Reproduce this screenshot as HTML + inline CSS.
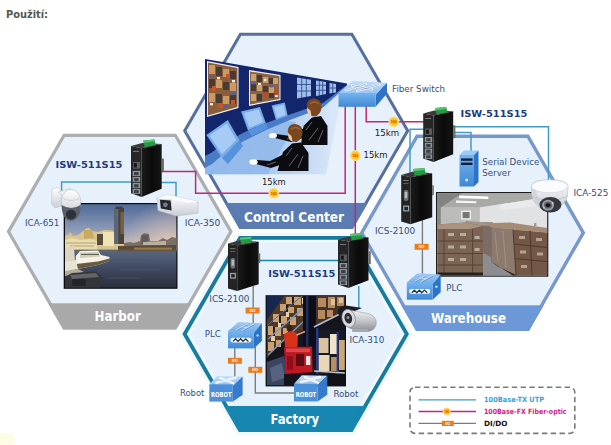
<!DOCTYPE html><html><head><meta charset="utf-8"><title>Použití</title><style>html,body{margin:0;padding:0;background:#fff}body{width:611px;height:445px;overflow:hidden}svg{display:block;font-family:"DejaVu Sans Condensed","DejaVu Sans","Liberation Sans",sans-serif}.b{font-family:"DejaVu Sans","Liberation Sans",sans-serif;font-weight:bold}.t{font-family:"DejaVu Sans Condensed","DejaVu Sans","Liberation Sans",sans-serif;font-weight:bold;fill:#fff}</style></head><body>
<svg width="611" height="445" viewBox="0 0 611 445">
<rect width="611" height="445" fill="#fff"/>
<defs>
<linearGradient id="gSide" x1="0" y1="0" x2="1" y2="0"><stop offset="0" stop-color="#1b1b1b"/><stop offset="0.5" stop-color="#0a0a0a"/><stop offset="1" stop-color="#151515"/></linearGradient>
<linearGradient id="gFront" x1="0" y1="0" x2="0" y2="1"><stop offset="0" stop-color="#74b4f0"/><stop offset="1" stop-color="#3f88d2"/></linearGradient>
<linearGradient id="gTop" x1="0" y1="0" x2="0" y2="1"><stop offset="0" stop-color="#c4dffa"/><stop offset="1" stop-color="#8fc0f2"/></linearGradient>
<linearGradient id="gSky" x1="0" y1="0" x2="0" y2="1"><stop offset="0" stop-color="#506a98"/><stop offset="0.55" stop-color="#8c9ab6"/><stop offset="1" stop-color="#dcc6b0"/></linearGradient>
<linearGradient id="gWater" x1="0" y1="0" x2="0" y2="1"><stop offset="0" stop-color="#5c6a84"/><stop offset="0.4" stop-color="#445068"/><stop offset="1" stop-color="#2a2f3c"/></linearGradient>
<linearGradient id="gWhite" x1="0" y1="0" x2="0" y2="1"><stop offset="0" stop-color="#ffffff"/><stop offset="1" stop-color="#c9ced6"/></linearGradient>
<linearGradient id="gSilver" x1="0" y1="0" x2="0" y2="1"><stop offset="0" stop-color="#f4f4f6"/><stop offset="0.5" stop-color="#c4c6ca"/><stop offset="1" stop-color="#8a8c92"/></linearGradient>
<radialGradient id="gSkyR" gradientUnits="userSpaceOnUse" cx="172" cy="252" r="52"><stop offset="0" stop-color="#ecd0bc" stop-opacity="0.95"/><stop offset="0.5" stop-color="#e0c4b4" stop-opacity="0.5"/><stop offset="1" stop-color="#d8c0b0" stop-opacity="0"/></radialGradient>
<linearGradient id="gFloor" gradientUnits="userSpaceOnUse" x1="205" y1="0" x2="338" y2="0"><stop offset="0" stop-color="#9cc0ee"/><stop offset="0.6" stop-color="#b4d0f2"/><stop offset="1" stop-color="#dbe8f9"/></linearGradient>
<linearGradient id="gTop2" x1="0" y1="0" x2="0" y2="1"><stop offset="0" stop-color="#a4ccf6"/><stop offset="1" stop-color="#6ea8e6"/></linearGradient>
<radialGradient id="gDot"><stop offset="0" stop-color="#ffb400"/><stop offset="0.6" stop-color="#ffc62a"/><stop offset="1" stop-color="#ffe48a"/></radialGradient>
<radialGradient id="gLens"><stop offset="0" stop-color="#555"/><stop offset="0.5" stop-color="#222"/><stop offset="1" stop-color="#666"/></radialGradient>

<!-- ISW switch: 30 x 55 -->
<g id="isw">
 <polygon points="0,6.4 11,3.5 30,4.3 10.3,8.5" fill="#3a3a3a"/>
 <polygon points="12,1 23,0 24.4,5.6 13.4,7.4" fill="#249a45"/>
 <polygon points="12,1 23,0 23.4,2 12.4,3.2" fill="#56c672"/>
 <polygon points="0,6.4 10.3,8.5 10.3,55 0,51.5" fill="#262626"/>
 <polygon points="10.3,8.5 30,4.3 30,47.2 10.3,55" fill="url(#gSide)"/>
 <polygon points="30,18 32.2,18.5 32.2,31 30,31.5" fill="#6a6a6a"/>
 <rect x="2" y="21.5" width="6.8" height="6.5" fill="#5a5d62"/>
 <rect x="2.8" y="22.6" width="3" height="4.2" fill="#1a1a1a"/>
 <rect x="1.6" y="30" width="7.4" height="5" fill="#8b969f"/>
 <rect x="1.6" y="35.8" width="7.4" height="5" fill="#8b969f"/>
 <rect x="1.6" y="41.6" width="7.4" height="5" fill="#8b969f"/>
 <rect x="1.6" y="47.4" width="7.4" height="4.6" fill="#8b969f"/>
 <rect x="3" y="31.2" width="4.4" height="3" fill="#3a4046"/>
 <rect x="3" y="37" width="4.4" height="3" fill="#3a4046"/>
 <rect x="3" y="42.8" width="4.4" height="3" fill="#3a4046"/>
 <rect x="3" y="48.4" width="4.4" height="2.8" fill="#3a4046"/>
 <rect x="2" y="11" width="6" height="1" fill="#777"/>
</g>
<!-- ICS-2100: 31 x 56 -->
<g id="ics">
 <polygon points="0,7 12,3.6 31,5.2 9.3,9.2" fill="#3a3a3a"/>
 <polygon points="12,1 23.2,0 24.6,6 13.4,7.8" fill="#249a45"/>
 <polygon points="12,1 23.2,0 23.6,2 12.4,3.2" fill="#56c672"/>
 <polygon points="0,7 9.3,9.2 9.3,56.2 0,53.6" fill="#242424"/>
 <polygon points="9.3,9.2 31,5.2 31,49.3 9.3,56.2" fill="url(#gSide)"/>
 <polygon points="31,17 32.6,17.4 32.6,27 31,27.4" fill="#6a6a6a"/>
 <rect x="2" y="12" width="5.5" height="0.9" fill="#888"/>
 <rect x="2" y="15" width="5.5" height="0.9" fill="#666"/>
 <rect x="2.6" y="22" width="4.6" height="11" rx="2" fill="#6e7378"/>
 <rect x="3.6" y="24" width="2.4" height="6" fill="#b8bcc0"/>
 <rect x="2" y="37.5" width="6" height="6" fill="#9aa4ac"/>
 <rect x="3.2" y="38.8" width="3.6" height="3.4" fill="#20262c"/>
</g>
<!-- generic blue box 34.5 x 27 : front 0..25.8 x 9.2..26.4 -->
<g id="boxbase">
 <polygon points="0,9.2 10.4,0 33.9,1.2 25.8,11" fill="url(#gTop)"/>
 <polygon points="25.8,11 33.9,1.2 33.9,19 25.8,26.4" fill="#2d74c8"/>
 <rect x="0" y="9.2" width="25.8" height="17.2" fill="url(#gFront)"/>
</g>
<g id="plc">
 <polygon points="0,9.2 10.4,0 33.9,1.2 25.8,11" fill="url(#gTop2)"/>
 <polygon points="25.8,11 33.9,1.2 33.9,19 25.8,26.4" fill="#2d74c8"/>
 <rect x="0" y="9.2" width="25.8" height="17.2" fill="url(#gFront)"/>
 <path d="M8,8 L18.5,2.6 M13.5,8.8 L26,2.2 M13,4.8 L20.5,5.6" stroke="#d6eafc" stroke-width="1" fill="none"/>
 <path d="M8.6,8.4 L19,3.1 M14.1,9.2 L26.5,2.7" stroke="#3f6fa8" stroke-width="0.5" fill="none"/>
 <rect x="2.4" y="15.8" width="21" height="4.6" rx="2.3" fill="#f4f8fc"/>
 <path d="M5,19.4 L7.6,16.8 L10,19.4 L12.6,16.8 L15,19.4 L17.6,16.8 L20.4,19.4" stroke="#27324a" stroke-width="1.3" fill="none"/>
 <circle cx="29.6" cy="13.4" r="1.2" fill="#bfe0ff"/>
</g>
<g id="robot">
 <polygon points="0,8.3 7.8,0 33.3,0.4 23.5,9.9" fill="url(#gTop)"/>
 <polygon points="23.5,9.9 33.3,0.4 33.3,19 23.5,25.5" fill="#357bcd"/>
 <rect x="0" y="8.3" width="23.5" height="17.2" fill="#4c90da"/>
 <path d="M7,6.6 L26,1.6 M11,1.8 L24,7.2" stroke="#ffffff" stroke-width="2.2" stroke-linecap="round" fill="none"/>
 <path d="M7,6.6 L26,1.6 M11,1.8 L24,7.2" stroke="#d8e4f0" stroke-width="0.7" fill="none"/>
</g>
<g id="dot100">
 <circle r="5.4" fill="url(#gDot)"/>
</g>
<g id="io">
 <rect x="-7" y="-3" width="14" height="6" fill="#ea7d1c"/>
</g>
</defs>

<text x="6" y="18" font-size="11" font-weight="bold" fill="#555" textLength="42" lengthAdjust="spacingAndGlyphs">Použití:</text>
<clipPath id="hh"><polygon points="230.9,231.6 175.3,327.9 64.1,327.9 8.5,231.6 64.1,135.3 175.3,135.3"/></clipPath>
<polygon points="230.9,231.6 175.3,327.9 64.1,327.9 8.5,231.6 64.1,135.3 175.3,135.3" fill="#e6f1fc"/>
<rect x="6.450000000000003" y="303.3" width="226.5" height="27.64532617101878" fill="#a9a9a9" clip-path="url(#hh)"/>
<polygon points="230.9,231.6 175.3,327.9 64.1,327.9 8.5,231.6 64.1,135.3 175.3,135.3" fill="none" stroke="#acaeb0" stroke-width="3.2" stroke-linejoin="miter"/>
<g clip-path="url(#hhb)"><polygon points="230.9,231.6 175.3,327.9 64.1,327.9 8.5,231.6 64.1,135.3 175.3,135.3" fill="none" stroke="#a9a9a9" stroke-width="3.2"/></g>
<clipPath id="hhb"><rect x="3.450000000000003" y="303.3" width="232.5" height="60"/></clipPath>
<clipPath id="hw"><polygon points="583.3,232.8 527.9,329.4 417.1,329.4 361.7,232.8 417.1,136.2 527.9,136.2"/></clipPath>
<polygon points="583.3,232.8 527.9,329.4 417.1,329.4 361.7,232.8 417.1,136.2 527.9,136.2" fill="#e6f1fc"/>
<rect x="359.7" y="305.3" width="225.6" height="27.099999999999966" fill="#6c98d8" clip-path="url(#hw)"/>
<polygon points="583.3,232.8 527.9,329.4 417.1,329.4 361.7,232.8 417.1,136.2 527.9,136.2" fill="none" stroke="#7897cb" stroke-width="3.4" stroke-linejoin="miter"/>
<g clip-path="url(#hwb)"><polygon points="583.3,232.8 527.9,329.4 417.1,329.4 361.7,232.8 417.1,136.2 527.9,136.2" fill="none" stroke="#6c98d8" stroke-width="3.4"/></g>
<clipPath id="hwb"><rect x="356.7" y="305.3" width="231.6" height="60"/></clipPath>
<polygon points="412.8,334.0 354.2,435.4 237.1,435.4 178.6,334.0 237.1,232.6 354.2,232.6" fill="#f3f8fd"/>
<clipPath id="hf"><polygon points="406.8,334.0 351.2,430.2 240.1,430.2 184.6,334.0 240.1,237.8 351.2,237.8"/></clipPath>
<polygon points="406.8,334.0 351.2,430.2 240.1,430.2 184.6,334.0 240.1,237.8 351.2,237.8" fill="#e6f1fc"/>
<polygon points="403.2,334.0 349.4,427.1 241.9,427.1 188.2,334.0 241.9,240.9 349.4,240.9" fill="none" stroke="#f1f8fe" stroke-width="3.4"/>
<rect x="182.6" y="406" width="226.2" height="27.215422360451157" fill="#1787b1" clip-path="url(#hf)"/>
<polygon points="406.8,334.0 351.2,430.2 240.1,430.2 184.6,334.0 240.1,237.8 351.2,237.8" fill="none" stroke="#187c9d" stroke-width="3.8" stroke-linejoin="miter"/>
<g clip-path="url(#hfb)"><polygon points="406.8,334.0 351.2,430.2 240.1,430.2 184.6,334.0 240.1,237.8 351.2,237.8" fill="none" stroke="#1787b1" stroke-width="3.8"/></g>
<clipPath id="hfb"><rect x="179.6" y="406" width="232.2" height="60"/></clipPath>
<clipPath id="hc"><polygon points="407.7,130.8 351.9,227.4 240.4,227.4 184.7,130.8 240.4,34.2 351.9,34.2"/></clipPath>
<polygon points="407.7,130.8 351.9,227.4 240.4,227.4 184.7,130.8 240.4,34.2 351.9,34.2" fill="#e6f1fc"/>
<rect x="182.7" y="203" width="227.0" height="27.361832521964914" fill="#5b7bb3" clip-path="url(#hc)"/>
<polygon points="407.7,130.8 351.9,227.4 240.4,227.4 184.7,130.8 240.4,34.2 351.9,34.2" fill="none" stroke="#566f9c" stroke-width="3" stroke-linejoin="miter"/>
<g clip-path="url(#hcb)"><polygon points="407.7,130.8 351.9,227.4 240.4,227.4 184.7,130.8 240.4,34.2 351.9,34.2" fill="none" stroke="#5b7bb3" stroke-width="3"/></g>
<clipPath id="hcb"><rect x="179.7" y="203" width="233.0" height="60"/></clipPath>
<!--yellowpatch--><polygon points="0,433 13,433 16,445 0,445" fill="#fdfce4"/>
<!-- ===== Control room picture ===== -->
<g id="ctrlroom">
 <polygon points="205,174.3 205,118 338,88 341,100 326,174.3" fill="url(#gFloor)"/>
 <polygon points="205,174.3 205,140 262,118 296,122 268,174.3" fill="#8fb7ea" opacity="0.8"/>
 <polygon points="347,86 323,107.5 290,120 266,130 244,141 226,152 212,164 205,168 205,150 347,84" fill="#4a7bc9"/>
 <polygon points="205,59 347,83.4 347,84.8 323,103 290,114.5 266,123 244,132.5 226,142 211,153 205,156" fill="#13266c"/>
 <!-- wall screens -->
 <polygon points="207,61 238.5,67 238.5,108 207,117" fill="#f2f2f2"/>
 <polygon points="208,62.5 237.5,68 237.5,107 208,115.5" fill="#8a5e3a"/>
 <g fill="#c99a62"><rect x="209" y="65" width="6" height="9"/><rect x="223" y="69" width="6" height="8"/><rect x="216" y="80" width="6" height="8"/><rect x="230" y="83" width="6" height="8"/><rect x="209" y="93" width="6" height="9"/><rect x="223" y="96" width="6" height="8"/></g>
 <g fill="#4a3a34"><rect x="216" y="67" width="6" height="9"/><rect x="230" y="71" width="6" height="8"/><rect x="209" y="79" width="6" height="9"/><rect x="223" y="82" width="6" height="8"/><rect x="216" y="94" width="6" height="9"/><rect x="230" y="95" width="6" height="9"/></g>
 <g fill="#c8542c"><rect x="212" y="86" width="4" height="5"/><rect x="226" y="74" width="4" height="4"/><rect x="231" y="100" width="4" height="4"/><rect x="218" y="103" width="5" height="5"/></g>
 <g fill="#4a66a8"><rect x="210" y="75" width="4" height="3"/><rect x="231" y="92" width="4" height="3"/><rect x="224" y="105" width="4" height="3"/></g>
 <g fill="#efe9dc"><rect x="217" y="77" width="3" height="2.4"/><rect x="210" y="103" width="3" height="2.4"/><rect x="232" y="80" width="3" height="2.4"/></g>
 <polygon points="249,70 280.5,75 280.5,100 249,106" fill="#f2f2f2"/>
 <polygon points="250,71.5 279.5,76 279.5,99 250,104.5" fill="#8a6244"/>
 <g fill="#c9a070"><rect x="251" y="74" width="5" height="7"/><rect x="263" y="77" width="5" height="6"/><rect x="257" y="85" width="5" height="6"/><rect x="269" y="87" width="5" height="6"/><rect x="251" y="94" width="5" height="7"/><rect x="273" y="78" width="5" height="6"/></g>
 <g fill="#463832"><rect x="257" y="75" width="5" height="7"/><rect x="269" y="78" width="4" height="6"/><rect x="251" y="84" width="5" height="7"/><rect x="263" y="86" width="5" height="6"/><rect x="257" y="94" width="5" height="7"/><rect x="269" y="93" width="5" height="5"/></g>
 <g fill="#b84a30"><rect x="264" y="92" width="4" height="5"/><rect x="274" y="90" width="4" height="5"/></g>
 <g fill="#4a66a8"><rect x="252" y="82" width="3" height="2.4"/><rect x="270" y="85" width="3" height="2.4"/></g>
 <g fill="#efe9dc"><rect x="258" y="83" width="3" height="2"/><rect x="275" y="95" width="3" height="2"/><rect x="264" y="79" width="2.4" height="2"/></g>
 <!-- windows -->
 <polygon points="297,77.5 311,79.8 311,96 297,98.5" fill="#9fbde8"/>
 <polygon points="316,80.5 326,82 326,94 316,96" fill="#9fbde8"/>
 <polygon points="329.5,83 336,84 336,92.5 329.5,93.5" fill="#9fbde8"/>
 <path d="M301.7,78 V98 M306.3,79 V97 M297,84.5 H311 M297,91 H311 M319.3,81 V95.5 M322.7,81.5 V95 M316,85.3 H326 M316,90.3 H326 M332.7,83.5 V93 M329.5,88 H336" stroke="#2a4488" stroke-width="0.8" fill="none"/>
 <!-- desk monitors -->
 <polygon points="206.4,135 227.8,120 239.5,140.6 222,158" fill="#79abe8"/>
 <polygon points="209.5,135.5 226.8,123.4 236.3,140 222,154" fill="#a6ccf6"/>
 <polygon points="241,111.4 260,107 265.8,123 248,130.4" fill="#79abe8"/>
 <polygon points="243.8,113 258.8,109.5 263.2,122 249.3,127.8" fill="#a6ccf6"/>
 <polygon points="271.6,105.5 284.8,102.6 287.7,115.8 276,120" fill="#79abe8"/>
 <polygon points="273.8,107 283.6,104.8 285.6,114.8 277,118" fill="#a6ccf6"/>
 <polygon points="222,158 239.5,140.6 243,146 228,164" fill="#5592dc"/>
 <polygon points="248,130.4 265.8,123 268,128 252,136" fill="#5592dc"/>
 <!-- person rear -->
 <path d="M301,145 L303.5,126 L312,117.5 L321,116 L327.5,126 L327.5,145 Z" fill="#0c0c10"/>
 <path d="M304,128 L290,136 L276,134 L275,138 L291,142 L306,137 Z" fill="#0c0c10"/>
 <ellipse cx="273" cy="135.5" rx="4" ry="2.6" fill="#fdfdfd"/>
 <ellipse cx="312" cy="109.5" rx="5" ry="6.4" fill="#f2c9a2"/>
 <path d="M306.6,106 Q307,98 314.5,98.4 Q322,99.4 321.6,107.5 Q321.2,113.5 315.5,116.5 L311.5,116 L310.5,110.5 L308,108.5 Z" fill="#7a4820"/>
 <path d="M310,104 Q314,100 319,104" stroke="#a0652e" stroke-width="1.2" fill="none"/>
 <path d="M306,130 L312,122 M309,140 L318,128 M318,142 L323,130 M296,136 L287,139" stroke="#8a8e98" stroke-width="0.7" fill="none"/>
 <!-- person front -->
 <path d="M277.5,171 L283,152 L292,143.5 L301,142.5 L308.5,153 L308.5,171 Z" fill="#0c0c10"/>
 <path d="M284,154 L270,161 L257,160 L256,164 L271,168 L286,163 Z" fill="#0c0c10"/>
 <ellipse cx="253.5" cy="162" rx="4.2" ry="2.8" fill="#fdfdfd"/>
 <ellipse cx="293" cy="135" rx="5" ry="6.4" fill="#f2c9a2"/>
 <path d="M287.6,131.5 Q288,123.5 295.5,123.9 Q303,124.9 302.6,133 Q302.2,139 296.5,142 L292.5,141.5 L291.5,136 L289,134 Z" fill="#7a4820"/>
 <path d="M291,129.5 Q295,125.5 300,129.5" stroke="#a0652e" stroke-width="1.2" fill="none"/>
 <path d="M286,156 L292,148 M289,166 L298,154 M298,168 L303,156 M276,162 L267,165" stroke="#8a8e98" stroke-width="0.7" fill="none"/>
</g>
<!-- ===== Harbor picture ===== -->
<g id="harborpic">
 <rect x="63.7" y="203" width="113.8" height="85.8" fill="#0c0c0e"/>
 <rect x="65" y="204.2" width="111.3" height="46" fill="url(#gSky)"/>
 <rect x="110" y="204.2" width="66.3" height="46" fill="url(#gSkyR)"/>
 <rect x="65" y="249" width="111.3" height="38.6" fill="url(#gWater)"/>
 <!-- skyline left -->
 <polygon points="65,236 68,235 70,232 73,236 78,235 82,232 86,228.5 89,228 92,231 98,232 104,230 113,230.5 114,236 124,238 124,250 65,250" fill="#d8c48e"/>
 <polygon points="84,230 92,230 94,238 84,239" fill="#c9a860"/>
 <rect x="103" y="232" width="11" height="14" fill="#f0e4b4"/>
 <rect x="97" y="234" width="6" height="11" fill="#5a4c3a"/>
 <polygon points="65,240 72,238 80,240 90,239 97,241 97,250 65,250" fill="#e8dcb0"/>
 <path d="M66,243 H96 M70,246 H94" stroke="#a89468" stroke-width="0.8"/>
 <!-- tower -->
 <rect x="114.4" y="208" width="9.6" height="36" fill="#4c4238"/>
 <rect x="114.4" y="208" width="4" height="36" fill="#5a6878"/>
 <rect x="115.6" y="206.6" width="7" height="2.4" fill="#3a4048"/>
 <rect x="120.5" y="212" width="3.5" height="22" fill="#7a6040"/>
 <!-- right skyline -->
 <polygon points="124,243 130,242 134,243 140,241 141,235.5 144,233 149,234 150,241 158,241 163,238 167,240 172,237 176.3,238 176.3,251 124,251" fill="#7a7068"/>
 <rect x="141.5" y="235" width="7" height="9" fill="#5e5a5c"/>
 <polygon points="143,242 166,241 166,245 143,245" fill="#b8b0a0"/>
 <polygon points="118,246 176.3,245 176.3,251.5 118,251.5" fill="#5a4a3a"/>
 <rect x="134" y="247.6" width="38" height="2.2" fill="#a07c44"/>
 <rect x="65" y="249.4" width="111.3" height="3" fill="#6a6258" opacity="0.6"/>
 <!-- boats -->
 <polygon points="65,248 74,246 75,262 65,266" fill="#dcd6c0"/>
 <polygon points="75.8,256 80,251 98,250.4 101,255 109.6,257 109,261 98,265 78,269 75.8,266" fill="#f4f2e6"/>
 <polygon points="80,252.6 98,252 100,256.5 80,258" fill="#d0ccb8"/>
 <path d="M81,254.4 H99" stroke="#5a564c" stroke-width="1"/>
 <polygon points="76,264 98,261.6 109.4,258.6 109,261 98,265 78,269 76,267" fill="#6a5a40"/>
 <polygon points="65,262 76,260 78,269 65,272" fill="#e8e4d4"/>
 <polygon points="65,271 78,269 84,272 65,276" fill="#b4ac98"/>
 <!-- foreground -->
 <polygon points="65,277 72,273 96,271.6 101,276 100,287.6 65,287.6" fill="#34363c"/>
 <polygon points="70,275 96,273 99,277 72,279" fill="#62646a"/>
 <rect x="72" y="279" width="14" height="7" rx="2" fill="#222428"/>
 <path d="M112,262 H150 M120,270 H160 M108,278 H140" stroke="#566074" stroke-width="0.8" opacity="0.7"/>
</g>
<!-- ===== Warehouse picture ===== -->
<g id="warepic">
 <rect x="436" y="192" width="112.3" height="84.7" fill="#1c1a1a"/>
 <rect x="437.2" y="193.2" width="109.9" height="82.3" fill="#c4c4c2"/>
 <polygon points="437.2,193.2 547.1,193.2 547.1,197 479.7,207.6 440.8,207.6 437.2,204" fill="#a9a9a7"/>
 <polygon points="437.2,193.2 462,193.2 452,200 440.8,207.6 437.2,204" fill="#828280"/>
 <polygon points="479.7,207.6 547.1,197 547.1,233 479.7,227" fill="#e0e2e4"/>
 <polygon points="500,204.4 547.1,197 547.1,205 500,210" fill="#e8eaec"/>
 <rect x="440.8" y="207.6" width="38.9" height="16" fill="#bcbcba"/>
 <polygon points="437.2,193.2 440.8,207.6 440.8,228 437.2,231" fill="#858583"/>
 <polygon points="459.2,195.6 488.3,196.6 488.3,199 459.2,198.2" fill="#ffffff"/>
 <polygon points="456,200.6 476.4,201.2 476.4,203.2 456,202.8" fill="#f6f6f6"/>
 <rect x="461.2" y="210.6" width="9.8" height="9" fill="#eeeeec"/>
 <rect x="462.6" y="212" width="7" height="6.2" fill="#767670"/>
 <rect x="534" y="223" width="2.4" height="3" fill="#9a9c9e"/>
 <!-- middle wrapped pallets -->
 <polygon points="466,221.4 493,222.6 493,258 481,256 470,240" fill="#7b6d66"/>
 <polygon points="466,221.4 493,222.6 493,226 470,225" fill="#a39588"/>
 <!-- floor -->
 <polygon points="481,252 493,258 514,275.5 481,275.5" fill="#8b8d91"/>
 <!-- left stack -->
 <polygon points="437.4,224.4 466,222.4 483,226 483,273.6 437.4,273.6" fill="#7b6453"/>
 <polygon points="437.4,224.4 466,222.4 483,226 470,229 437.4,229" fill="#a9937f"/>
 <path d="M437.4,241 H483 M437.4,253.5 H483 M437.4,265 H483 M444,229 V273 M472.6,229 V273" stroke="#574032" stroke-width="0.9" fill="none"/>
 <g fill="#b9ab9b"><rect x="448" y="233" width="6" height="3"/><rect x="460" y="233" width="6" height="3"/><rect x="448" y="245.5" width="6" height="3"/><rect x="460" y="245.5" width="6" height="3"/><rect x="448" y="258" width="6" height="3"/><rect x="460" y="258" width="6" height="3"/><rect x="474.6" y="236" width="5" height="3"/><rect x="474.6" y="248" width="5" height="3"/></g>
 <!-- right stack -->
 <polygon points="491.5,227.6 547.1,232.4 547.1,275.5 513,275.5 491.5,262" fill="#735847"/>
 <polygon points="486,223.2 510,222.4 547.1,228 547.1,232.6 491.5,227.8" fill="#a58a74"/>
 <polygon points="491.5,227.8 513,229.6 516,275 497,266 491.5,262" fill="#8c7a6e"/>
 <path d="M513,229.6 L516,275.5 M530,231 L532,275.5 M514,244 L547.1,247.5 M515,258.6 L547.1,261.6" stroke="#4c3428" stroke-width="0.9" fill="none"/>
 <path d="M495,232 L498,262 M503,231 L506,268" stroke="#b0a49c" stroke-width="0.8" fill="none" opacity="0.7"/>
 <g fill="#b3a290"><rect x="519" y="236" width="6" height="3"/><rect x="536" y="238" width="6" height="3"/><rect x="520" y="250.5" width="6" height="3"/><rect x="537" y="252.5" width="6" height="3"/><rect x="521" y="265" width="6" height="3"/></g>
 <polygon points="437.4,272.4 483,272.4 483,275.5 437.4,275.5" fill="#262220"/>
 <polygon points="491.5,262 497,266 516,275 513,275.5" fill="#2a2422"/>
</g>
<!-- ===== Factory picture ===== -->
<g id="factpic">
 <rect x="265.6" y="295.2" width="80.4" height="91.2" fill="#0e0e12"/>
 <rect x="266.8" y="296" width="78" height="89.2" fill="#15151d"/>
 <polygon points="266.8,296 284,296 266.8,320" fill="#16284f"/>
 <!-- left shelves -->
 <polygon points="266.8,320 284,296 310,296 304,330 288,337 266.8,358" fill="#4e3828"/>
 <g fill="#c9a172"><rect x="286" y="297" width="6" height="7"/><rect x="294" y="297" width="7" height="8"/><rect x="280" y="304" width="6" height="7"/><rect x="288" y="307" width="6" height="6"/><rect x="297" y="308" width="6" height="8"/><rect x="273" y="314" width="6" height="8"/><rect x="281" y="316" width="6" height="8"/><rect x="290" y="317" width="6" height="8"/><rect x="268" y="326" width="5" height="9"/><rect x="275" y="327" width="6" height="9"/><rect x="283" y="328" width="5" height="6"/><rect x="268" y="342" width="6" height="9"/><rect x="276" y="340" width="5" height="7"/></g>
 <g fill="#e6cfa4"><rect x="302" y="298" width="5" height="6"/><rect x="286" y="312" width="3" height="5"/><rect x="278" y="322" width="3" height="5"/><rect x="271" y="336" width="4" height="5"/></g>
 <g fill="#241a16"><rect x="292" y="297" width="2" height="8"/><rect x="286" y="305" width="2" height="7"/><rect x="279" y="315" width="2" height="8"/><rect x="273" y="327" width="2" height="9"/></g>
 <path d="M308,304 L268,339 M305,320 L268,355" stroke="#7d93ba" stroke-width="1.3" fill="none"/>
 <path d="M302,296 L267.5,325" stroke="#5a6c96" stroke-width="1" fill="none"/>
 <!-- centre dark band -->
 <rect x="303" y="296" width="13" height="52" fill="#0c0e1a"/>
 <rect x="306" y="296" width="2.4" height="50" fill="#222c5c"/>
 <!-- right shelves upper -->
 <polygon points="316,296 344.8,296 344.8,312 316,326" fill="#46322a"/>
 <g fill="#b48a5e"><rect x="318" y="298" width="8" height="9"/><rect x="328" y="297" width="7" height="11"/><rect x="337" y="297" width="7" height="9"/><rect x="318" y="310" width="7" height="9"/><rect x="327" y="310" width="6" height="7"/></g>
 <g fill="#dcc098"><rect x="331" y="299" width="4" height="6"/><rect x="339" y="298" width="4" height="5"/></g>
 <path d="M314,327 L344.8,311.5" stroke="#b4bccc" stroke-width="1.8" fill="none"/>
 <!-- right shelves lower -->
 <rect x="316" y="330" width="28.8" height="46" fill="#1a1a24"/>
 <rect x="318.5" y="338" width="10" height="15" fill="#d8c4a0"/>
 <rect x="330" y="334" width="7" height="20" fill="#f0e4cc"/>
 <rect x="339" y="340" width="5.8" height="30" fill="#c8a878"/>
 <rect x="318.5" y="355" width="11" height="16" fill="#e8d8b8"/>
 <rect x="331" y="357" width="7" height="14" fill="#b89060"/>
 <rect x="316" y="328" width="2.4" height="52" fill="#2a3a84"/>
 <rect x="336.6" y="332" width="2" height="42" fill="#2a3a84"/>
 <path d="M314,371 L344.8,373" stroke="#c0c6d0" stroke-width="1.5" fill="none"/>
 <rect x="312" y="374" width="32.8" height="11.2" fill="#111118"/>
 <!-- floor -->
 <polygon points="266.8,362 284,356 292,385.2 266.8,385.2" fill="#3a455f"/>
 <polygon points="270,368 282,363 285,378 272,382" fill="#566280"/>
 <!-- forklift & driver -->
 <polygon points="284,347.5 312,346.5 312.6,372 286,374" fill="#bf1822"/>
 <rect x="286" y="348.5" width="24" height="3.6" fill="#e2444c"/>
 <rect x="296" y="354" width="8" height="12" fill="#5c0c12"/>
 <rect x="306" y="356" width="4.4" height="9" fill="#ece4e4"/>
 <rect x="287" y="356" width="6" height="14" fill="#8e1018"/>
 <polygon points="284,334 291,330.5 298,334 297.4,347.5 285,347.5" fill="#d8321a"/>
 <ellipse cx="289.6" cy="328.2" rx="2.9" ry="3.3" fill="#38201a"/>
 <path d="M296.5,335 L305,331.5" stroke="#d8a080" stroke-width="1.8" fill="none"/>
 <rect x="284" y="374" width="28" height="11.2" fill="#14141a"/>
</g>
<!-- ===== network lines ===== -->
<g fill="none" stroke-linejoin="miter">
 <!-- fiber (pink) -->
 <g stroke="#c4257c" stroke-width="1.5">
  <path d="M161,171.4 H195.6 V193.2 H345.2 V106"/>
  <path d="M355.3,106 V236"/>
  <path d="M366.2,106 V121.8 H425"/>
 </g>
 <!-- UTP (blue) -->
 <g stroke="#3f9dc4" stroke-width="1.5">
  <path d="M61.6,192 V182 H133"/>
  <path d="M160,182.4 H176 V197"/>
  <path d="M452,126.7 H548.5 V183"/>
  <path d="M452,132.6 H471 V151"/>
  <path d="M425,129.2 H410 V176"/>
  <path d="M358.8,286 V309"/>
 </g>
 <path d="M257,260.5 H340" stroke="#1b88a8" stroke-width="1.4"/>
 <!-- DI/DO (gray) -->
 <g stroke="#7d7d7d" stroke-width="1.4">
  <path d="M253.2,286 V324"/>
  <path d="M234.8,347 V378"/>
  <path d="M255.3,347 V393 H296"/>
  <path d="M422.4,220 V275"/>
 </g>
</g>
<!-- ===== devices ===== -->
<use href="#isw" transform="translate(131,139.4) scale(1.023,1.047)"/>
<use href="#isw" transform="translate(423.2,107)"/>
<use href="#isw" transform="translate(338,233) scale(1.017,1)"/>
<use href="#ics" transform="translate(228,236.7) scale(0.99,0.965)"/>
<use href="#ics" transform="translate(401.2,168)"/>
<!-- fiber switch -->
<g id="fsw">
 <polygon points="338.5,93 352.7,80.8 387,82.8 375.6,95" fill="url(#gTop)"/>
 <polygon points="375.6,95 387,82.8 387,93.6 375.6,106.8" fill="#2d74c8"/>
 <rect x="338.5" y="93" width="37.1" height="13.8" fill="url(#gFront)"/>
 <path d="M346,90.4 L366,84 M357,91 L379,84.6 M352,85.4 L372,89.6" stroke="#ffffff" stroke-width="2" stroke-linecap="round" fill="none"/>
 <path d="M346,90.4 L366,84 M357,91 L379,84.6 M352,85.4 L372,89.6" stroke="#7f8da0" stroke-width="0.6" fill="none"/>
</g>
<!-- serial device server -->
<g id="sds">
 <polygon points="459.5,155 464,150.5 478.5,150.5 474,155" fill="#9ccaf6"/>
 <polygon points="474,155 478.5,150.5 478.5,182 474,186.5" fill="#2d74c8"/>
 <rect x="459.5" y="155" width="14.5" height="31.5" fill="url(#gFront)"/>
 <rect x="461" y="158.4" width="11.5" height="2.4" fill="#12203c"/>
 <rect x="461" y="162.6" width="11.5" height="2.4" fill="#12203c"/>
 <circle cx="466.7" cy="180" r="1.5" fill="#cfe6ff"/>
</g>
<use href="#plc" transform="translate(228,322)"/>
<use href="#plc" transform="translate(406.8,273.3)"/>
<use href="#robot" transform="translate(209.3,376.1)"/>
<use href="#robot" transform="translate(294,375.3) scale(1,1.025)"/>
<!-- cameras -->
<g id="ica651">
 <path d="M52,189 L58,187.6 L61,190 L61,206 L55,208 L51.5,204 Z" fill="url(#gWhite)" stroke="#b9bec6" stroke-width="0.5"/>
 <path d="M58,192 L70,188.4 L74,191 L64,197 Z" fill="#eef0f4" stroke="#b9bec6" stroke-width="0.5"/>
 <ellipse cx="71" cy="202" rx="9.8" ry="12.6" fill="url(#gWhite)" stroke="#b4bac2" stroke-width="0.6"/>
 <path d="M61.6,205 Q71,211 80.6,205 Q80.6,214 76.5,218.4 Q71,223 65.5,218.4 Q61.6,214 61.6,205 Z" fill="#5a5f68"/>
 <ellipse cx="71" cy="214.6" rx="5.2" ry="4.8" fill="#2c3038"/>
 <path d="M62.5,198 Q71,203 79.5,198" stroke="#c4c9d0" stroke-width="0.8" fill="none"/>
</g>
<g id="ica350">
 <polygon points="157,198 168,194.8 198,201.5 198,213 176,216 158,210.5" fill="url(#gWhite)" stroke="#b4bac2" stroke-width="0.6"/>
 <polygon points="157,198 168,194.8 198,201.5 188,203 170,199" fill="#fbfbfd"/>
 <polygon points="158,198.6 171.6,199.6 173,212.6 159,209.8" fill="#d6dae0"/>
 <polygon points="160,199.8 170.6,200.6 171.6,210.6 160.8,208.6" fill="#23262c"/>
 <circle cx="165.4" cy="204.8" r="2.4" fill="#767c88"/>
</g>
<g id="ica525">
 <path d="M531.2,186.5 Q531.2,179.8 549.6,179.8 Q568,179.8 568,186.5 L567.4,196 Q565.6,203.5 558,208 L541.4,208 Q533.4,203.5 531.9,196 Z" fill="url(#gWhite)" stroke="#b4bac2" stroke-width="0.6"/>
 <path d="M531.4,188 Q534,204 541.4,208 L545,208 Q537,200 536,189 Z" fill="#c9ced6" opacity="0.7"/>
 <ellipse cx="549.6" cy="186.3" rx="18.2" ry="6.4" fill="#fafbfd" stroke="#c4c9d0" stroke-width="0.5"/>
 <path d="M532.4,196.4 Q549.6,204.6 567.2,196.4" stroke="#bcc2ca" stroke-width="0.8" fill="none"/>
 <ellipse cx="550.4" cy="204.8" rx="11" ry="7.8" fill="#34373e"/>
 <ellipse cx="548" cy="205.2" rx="6" ry="5.4" fill="#9da1a9"/>
 <ellipse cx="548" cy="205.2" rx="4" ry="3.6" fill="#5a5d64"/>
 <ellipse cx="548" cy="205.2" rx="2.2" ry="2" fill="#15161a"/>
 <circle cx="552.6" cy="203" r="0.9" fill="#d8dade"/><circle cx="544" cy="207.6" r="0.8" fill="#c8cace"/>
</g>
<g id="ica310">
 <path d="M337.4,312 Q338,306 346,305.5 L362,308 L350,313 L342,322 Z" fill="#1c1c20"/>
 <path d="M346,309.5 L368,313.5 Q376.5,316 376.3,323 Q376,330 368,331.6 L350,328.5 Z" fill="url(#gSilver)" stroke="#8c9098" stroke-width="0.5"/>
 <ellipse cx="348.6" cy="318.4" rx="6.6" ry="9.2" transform="rotate(-14 348.6 318.4)" fill="#d9dbe0" stroke="#777b84" stroke-width="0.7"/>
 <ellipse cx="348.3" cy="318.2" rx="3.8" ry="5.4" transform="rotate(-14 348.3 318.2)" fill="#2a2c32"/>
 <circle cx="348" cy="317.6" r="1.5" fill="#8a8e98"/>
 <rect x="352" y="329" width="16" height="3" rx="1" fill="#a4a8b0"/>
</g>
<!-- 100 dots -->
<g font-size="3.6" font-weight="bold" fill="#d84a00" text-anchor="middle" style="font-family:'Liberation Sans',sans-serif">
 <use href="#dot100" x="273.8" y="193.2"/><text x="273.8" y="194.5">100</text>
 <use href="#dot100" x="355.3" y="155.5"/><text x="355.3" y="156.8">100</text>
 <use href="#dot100" x="393.8" y="121.8"/><text x="393.8" y="123.1">100</text>
</g>
<!-- I/O tags -->
<g font-size="4.4" font-weight="bold" fill="#fff" text-anchor="middle" style="font-family:'Liberation Sans',sans-serif">
 <use href="#io" x="252.6" y="310.5"/><text x="252.6" y="312.1">I/O</text>
 <use href="#io" x="234.9" y="360.8"/><text x="234.9" y="362.4">I/O</text>
 <use href="#io" x="255.3" y="369.8"/><text x="255.3" y="371.4">I/O</text>
 <use href="#io" x="421.6" y="246.8"/><text x="421.6" y="248.4">I/O</text>
</g>
<!-- ===== labels ===== -->
<g class="b" font-size="9.4" fill="#1d3d80">
 <text class="b" x="55.5" y="168" textLength="67" lengthAdjust="spacingAndGlyphs">ISW-511S15</text>
 <text class="b" x="460.5" y="117.2" textLength="67" lengthAdjust="spacingAndGlyphs">ISW-511S15</text>
 <text class="b" x="268.3" y="276.6" textLength="67" lengthAdjust="spacingAndGlyphs">ISW-511S15</text>
</g>
<g font-size="8.8" fill="#34507c" style="font-family:'DejaVu Sans','Liberation Sans',sans-serif">
 <text x="25" y="226.3" textLength="34.4" lengthAdjust="spacingAndGlyphs">ICA-651</text>
 <text x="184.8" y="226" textLength="35.6" lengthAdjust="spacingAndGlyphs">ICA-350</text>
 <text x="573.5" y="195.6" textLength="34.8" lengthAdjust="spacingAndGlyphs">ICA-525</text>
 <text x="349.5" y="343.3" textLength="34.8" lengthAdjust="spacingAndGlyphs">ICA-310</text>
 <text x="392" y="91.5" textLength="53" lengthAdjust="spacingAndGlyphs">Fiber Switch</text>
 <text x="482.3" y="165.4" textLength="57" lengthAdjust="spacingAndGlyphs">Serial Device</text>
 <text x="482.3" y="176" textLength="28.4" lengthAdjust="spacingAndGlyphs">Server</text>
 <text x="209.3" y="302" textLength="40.2" lengthAdjust="spacingAndGlyphs">ICS-2100</text>
 <text x="375" y="234.3" textLength="40.2" lengthAdjust="spacingAndGlyphs">ICS-2100</text>
 <text x="204.8" y="337.4" textLength="16" lengthAdjust="spacingAndGlyphs">PLC</text>
 <text x="446.2" y="290.8" textLength="16.2" lengthAdjust="spacingAndGlyphs">PLC</text>
 <text x="180" y="395.6" textLength="24.4" lengthAdjust="spacingAndGlyphs">Robot</text>
 <text x="333.5" y="397.2" textLength="25" lengthAdjust="spacingAndGlyphs">Robot</text>
</g>
<g font-size="8.8" fill="#1e1e1e" style="font-family:'DejaVu Sans','Liberation Sans',sans-serif">
 <text x="262" y="185.4" textLength="23.6" lengthAdjust="spacingAndGlyphs">15km</text>
 <text x="363.5" y="158" textLength="24" lengthAdjust="spacingAndGlyphs">15km</text>
 <text x="374.8" y="135.5" textLength="24.4" lengthAdjust="spacingAndGlyphs">15km</text>
</g>
<g font-size="6.8" font-weight="bold" fill="#fff" style="font-family:'DejaVu Sans Condensed','Liberation Sans',sans-serif">
 <text x="211" y="396.9" textLength="20.5" lengthAdjust="spacingAndGlyphs">ROBOT</text>
 <text x="295.7" y="396.9" textLength="20.5" lengthAdjust="spacingAndGlyphs">ROBOT</text>
</g>
<g class="t" font-size="13.4">
 <text class="t" x="244" y="221.8" textLength="100" lengthAdjust="spacingAndGlyphs">Control Center</text>
 <text class="t" x="94.5" y="321.1" textLength="46.3" lengthAdjust="spacingAndGlyphs">Harbor</text>
 <text class="t" x="431" y="323.2" textLength="75" lengthAdjust="spacingAndGlyphs">Warehouse</text>
 <text class="t" x="270.5" y="424.2" textLength="48.7" lengthAdjust="spacingAndGlyphs">Factory</text>
</g>
<!-- ===== legend ===== -->
<rect x="410" y="387.2" width="164.8" height="46.2" rx="5" fill="#fff" stroke="#7a7a7a" stroke-width="1.6" stroke-dasharray="5.4,3.4"/>
<path d="M418.5,399.9 H476" stroke="#3f9dc4" stroke-width="1.4"/>
<path d="M418.5,411.4 H476" stroke="#c4257c" stroke-width="1.5"/>
<path d="M418.5,423.4 H476" stroke="#7d7d7d" stroke-width="1.4"/>
<circle cx="446.8" cy="411.4" r="3.9" fill="url(#gDot)"/>
<rect x="441.8" y="420.8" width="12" height="5.2" fill="#ea7d1c"/>
<text x="446.8" y="412.5" font-size="3" font-weight="bold" fill="#d84a00" text-anchor="middle" style="font-family:'Liberation Sans',sans-serif">100</text>
<text x="447.8" y="424.8" font-size="3.6" font-weight="bold" fill="#fff" text-anchor="middle" style="font-family:'Liberation Sans',sans-serif">I/O</text>
<g font-size="7.2" style="font-family:'DejaVu Sans','Liberation Sans',sans-serif">
 <text x="484" y="402.3" fill="#3aa2d6" font-weight="bold" textLength="60" lengthAdjust="spacingAndGlyphs">100Base-TX UTP</text>
 <text x="484" y="413.8" fill="#d3237f" font-weight="bold" textLength="82.5" lengthAdjust="spacingAndGlyphs">100Base-FX Fiber-optic</text>
 <text x="484" y="425.6" fill="#111" font-weight="bold" textLength="23.5" lengthAdjust="spacingAndGlyphs">DI/DO</text>
</g>

</svg></body></html>
